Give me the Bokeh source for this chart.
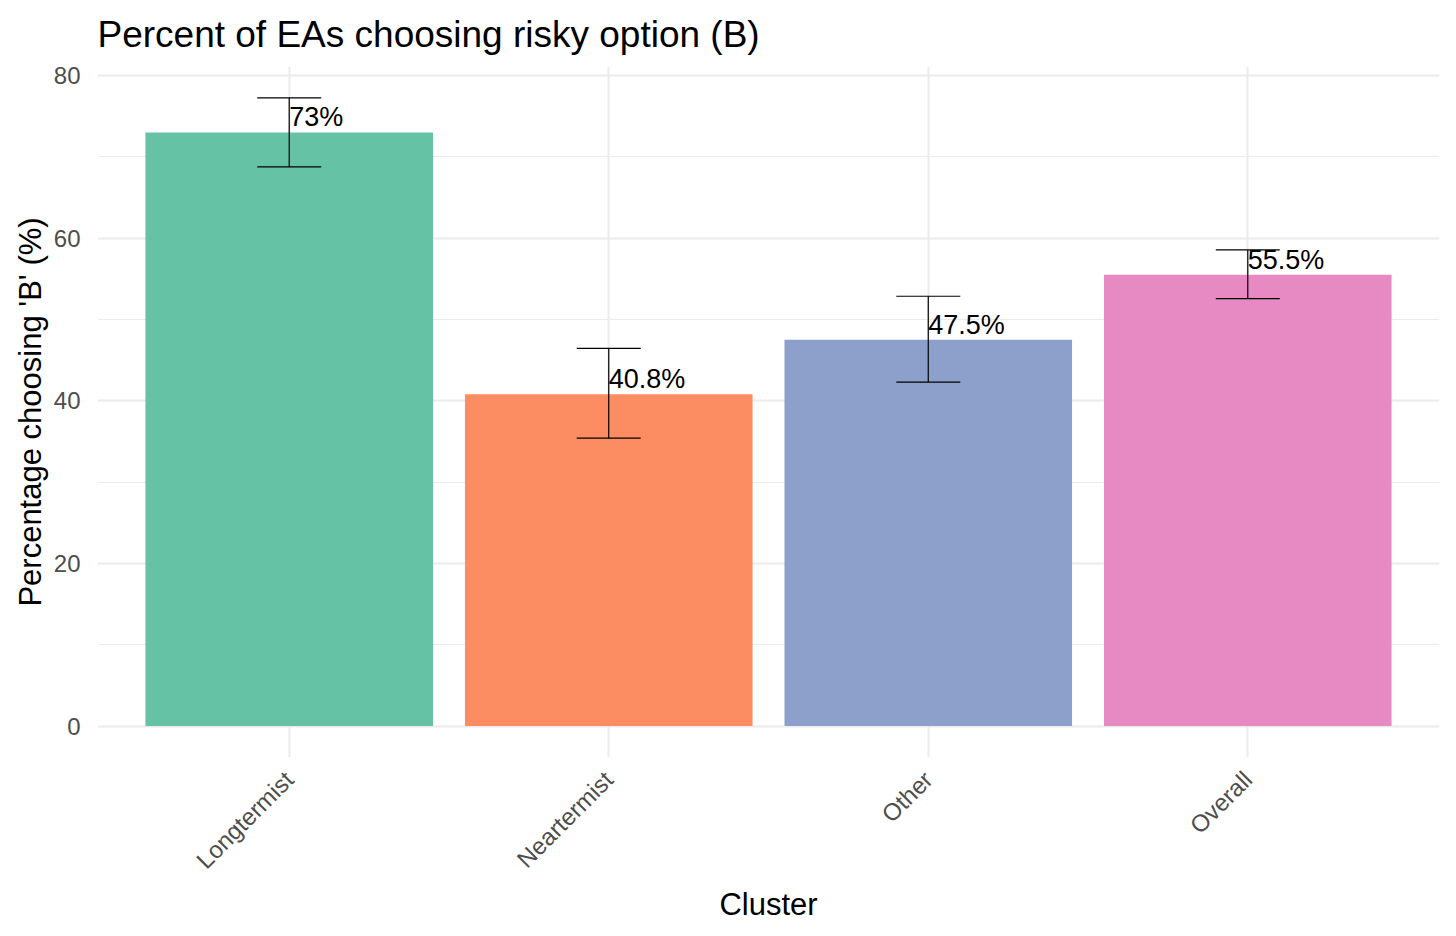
import math
from bokeh.plotting import figure
from bokeh.models import ColumnDataSource, FixedTicker, Whisker, Range1d
from bokeh.core.properties import value
from bokeh.embed import file_html
from bokeh.resources import INLINE

clusters = ["Longtermist", "Neartermist", "Other", "Overall"]
percent = [73.0, 40.8, 47.5, 55.5]
lower = [68.75, 35.4, 42.3, 52.55]
upper = [77.25, 46.45, 52.85, 58.55]
labels = ["73%", "40.8%", "47.5%", "55.5%"]
colors = ["#66C2A5", "#FC8D62", "#8DA0CB", "#E78AC3"]
y_ticks = [0, 20, 40, 60, 80]
y_minor = [10, 30, 50, 70]

xpos = [i + 1 for i in range(len(clusters))]
src = ColumnDataSource(dict(x=xpos, top=percent, lower=lower, upper=upper,
                            label=labels, color=colors))

FONT = "Liberation Sans"
p = figure(width=1448, height=928, output_backend="svg", toolbar_location=None,
           x_range=Range1d(0.4, 4.6), y_range=Range1d(-3.86, 81.1),
           min_border_left=97, min_border_right=9, min_border_top=65,
           min_border_bottom=171)

p.title.text = "Percent of EAs choosing risky option (B)"
p.title.text_font = FONT
p.title.text_font_size = "37px"
p.title.text_font_style = "normal"
p.title.text_color = "#000000"
p.title.offset = 0
p.title.standoff = 23

p.outline_line_color = None
p.background_fill_color = "white"

p.vbar(x="x", top="top", bottom=0, width=0.9, fill_color="color",
       line_color=None, source=src)

w = Whisker(source=src, base="x", lower="lower", upper="upper",
            line_color="black", line_width=1.2, level="overlay")
w.upper_head.size = 64
w.lower_head.size = 64
w.upper_head.line_color = "black"
w.lower_head.line_color = "black"
w.upper_head.line_width = 1.2
w.lower_head.line_width = 1.2
p.add_layout(w)

p.text(x="x", y="top", text="label", source=src, text_align="left",
       text_baseline="bottom", text_font=value(FONT), text_font_size="27px",
       text_color="black", level="overlay")

# axes
p.xaxis.ticker = FixedTicker(ticks=xpos)
p.xaxis.major_label_overrides = {x: c for x, c in zip(xpos, clusters)}
p.xaxis.major_label_orientation = math.pi / 4
p.yaxis.ticker = FixedTicker(ticks=y_ticks, minor_ticks=y_minor)
for ax in (p.xaxis[0], p.yaxis[0]):
    ax.axis_line_color = None
    ax.major_tick_line_color = None
    ax.minor_tick_line_color = None
    ax.major_label_text_font = FONT
    ax.major_label_text_font_size = "24px"
    ax.major_label_text_color = "#4D4D4D"
    ax.axis_label_text_font = FONT
    ax.axis_label_text_font_size = "31px"
    ax.axis_label_text_font_style = "normal"
    ax.axis_label_text_color = "black"

p.xaxis.axis_label = "Cluster"
p.yaxis.axis_label = "Percentage choosing 'B' (%)"
p.yaxis.major_label_standoff = 11
p.xaxis.major_label_standoff = 12
p.yaxis.axis_label_standoff = 3
p.xaxis.axis_label_standoff = 1

p.xgrid.grid_line_color = "#EBEBEB"
p.xgrid.grid_line_width = 2
p.ygrid.grid_line_color = "#EBEBEB"
p.ygrid.grid_line_width = 2
p.ygrid.minor_grid_line_color = "#EBEBEB"
p.ygrid.minor_grid_line_width = 1.2

open("out.html", "w").write(file_html(p, INLINE))
